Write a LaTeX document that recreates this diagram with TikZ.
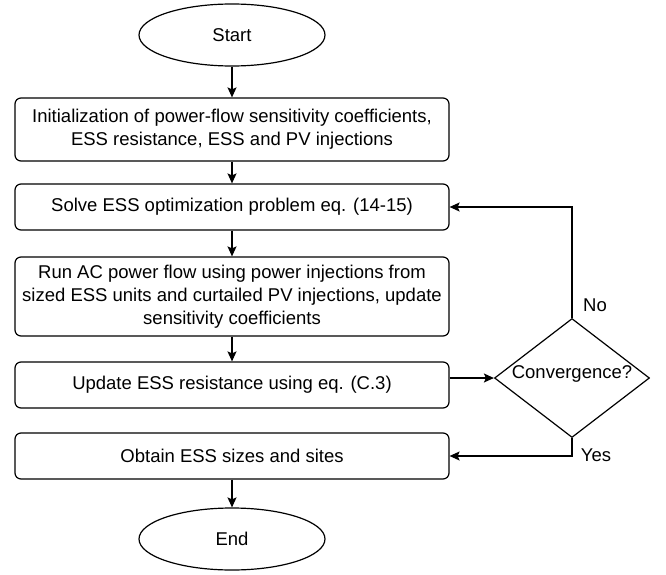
\documentclass[tikz,border=0pt]{standalone}
\usepackage{fontspec}
\setmainfont{Liberation Sans}
\usetikzlibrary{shapes.geometric,arrows.meta}
\begin{document}
\begin{tikzpicture}[x=1pt, y=-1pt, line width=1.2pt,
                    every node/.style={font=\fontsize{18.5}{23}\selectfont, align=center},
                    box_style/.style={draw, rounded corners=6pt, minimum width=434pt, inner sep=0pt},
                    term_style/.style={ellipse, draw, minimum width=186pt, minimum height=62pt, inner sep=0pt},
                    dec_style/.style={diamond, draw, minimum width=155pt, minimum height=119pt, inner sep=0pt},
                    edge_style/.style={draw=black, -{Stealth[length=10pt, width=9pt, inset=2pt]}}]
                    \useasboundingbox (0, 0) rectangle (666, 575);
                    \node[term_style] (start) at (232, 35) {Start};
                    \node[box_style, minimum height=63pt] (init) at (232, 129.5) {Initialization of power-flow sensitivity coefficients,\\ESS resistance, ESS and PV injections};
                    \node[box_style, minimum height=46pt] (solve) at (232, 207) {Solve ESS optimization problem eq. (14-15)};
                    \node[box_style, minimum height=79pt] (acpf) at (232, 296.5) {Run AC power flow using power injections from\\sized ESS units and curtailed PV injections, update\\sensitivity coefficients};
                    \node[box_style, minimum height=46pt] (upd) at (232, 385) {Update ESS resistance using eq. (C.3)};
                    \node[box_style, minimum height=46pt] (obtain) at (232, 456) {Obtain ESS sizes and sites};
                    \node[term_style] (end) at (232, 539) {End};
                    \node[dec_style, label={[yshift=4pt]center:Convergence?}] (conv) at (572, 378) {};
                    \node (no) at (595, 305) {No};
                    \node (yes) at (596, 455) {Yes};
                    \draw[edge_style] (start) -- (init);
                    \draw[edge_style] (init) -- (solve);
                    \draw[edge_style] (solve) -- (acpf);
                    \draw[edge_style] (acpf) -- (upd);
                    \draw[edge_style] (conv.west -| upd.east) -- (conv.west);
                    \draw[edge_style] (conv.north) |- (solve.east);
                    \draw[edge_style] (conv.south) |- (obtain.east);
                    \draw[edge_style] (obtain) -- (end);
                \end{tikzpicture}
\end{document}
